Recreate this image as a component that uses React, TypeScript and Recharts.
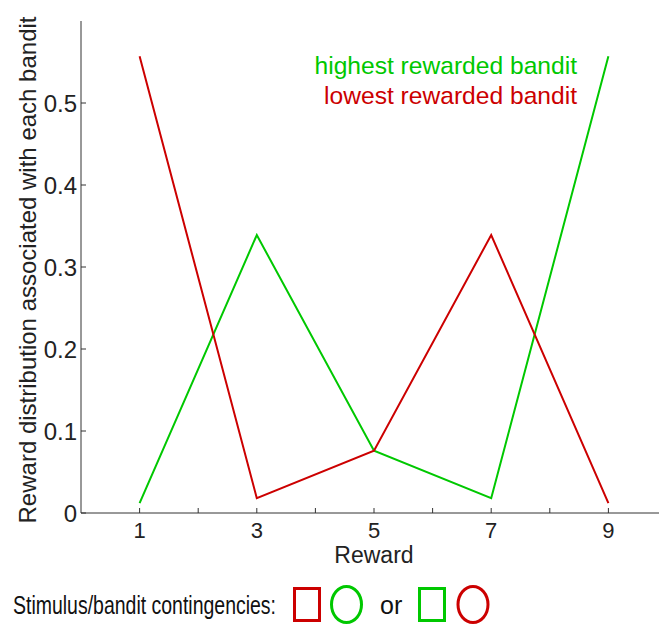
import React from 'react';
import { LineChart, Line, XAxis, YAxis } from 'recharts';

// Reward values on the x axis and the probability of each reward per bandit
const rewards = [1, 3, 5, 7, 9];
const highestBandit = [0.012, 0.339, 0.076, 0.018, 0.557];
const lowestBandit = [0.557, 0.018, 0.076, 0.339, 0.012];

const xTicks = [1, 2, 3, 4, 5, 6, 7, 8, 9];
const xTickLabels = ['1', '', '3', '', '5', '', '7', '', '9'];
const yTicks = [0, 0.1, 0.2, 0.3, 0.4, 0.5];
const yTickLabels = ['0', '0.1', '0.2', '0.3', '0.4', '0.5'];

const GREEN = '#00c800';
const RED = '#cc0000';
const AXIS = '#333';
const FONT = '"Liberation Sans", Arial, Helvetica, sans-serif';

const data = rewards.map((r, i) => ({
    reward: r,
    highest: highestBandit[i],
    lowest: lowestBandit[i],
}));

// ticks point into the plot, matlab style
const XTick = ({ x, y, payload }: any) => {
    const idx = xTicks.indexOf(payload.value);
    return (
        <g>
            <line x1={x} y1={y} x2={x} y2={y - 5} stroke={AXIS} />
            <text x={x} y={y + 25} textAnchor="middle" fontSize={22} fill="#222" fontFamily={FONT}>
                {xTickLabels[idx]}
            </text>
        </g>
    );
};

const YTick = ({ x, y, payload }: any) => {
    const idx = yTicks.indexOf(payload.value);
    return (
        <g>
            <line x1={x} y1={y} x2={x + 5} y2={y} stroke={AXIS} />
            <text x={x - 4} y={y + 9} textAnchor="end" fontSize={24} fill="#222" fontFamily={FONT}>
                {yTickLabels[idx]}
            </text>
        </g>
    );
};

export default function App() {
    return (
        <div
            style={{
                position: 'fixed',
                left: 0,
                top: 0,
                width: 659,
                height: 626,
                overflow: 'hidden',
                background: '#fff',
                fontFamily: FONT,
            }}
        >
            <LineChart
                width={700}
                height={560}
                data={data}
                margin={{ top: 21, right: 33, left: 0, bottom: 7 }}
            >
                <XAxis
                    dataKey="reward"
                    type="number"
                    domain={[0, 10]}
                    ticks={xTicks}
                    tickLine={false}
                    tickSize={0}
                    tickMargin={0}
                    tick={<XTick />}
                    axisLine={{ stroke: AXIS }}
                    height={40}
                    interval={0}
                />
                <YAxis
                    type="number"
                    domain={[0, 0.6]}
                    ticks={yTicks}
                    tickLine={false}
                    tickSize={0}
                    tickMargin={0}
                    tick={<YTick />}
                    axisLine={{ stroke: AXIS }}
                    width={81}
                    interval={0}
                />
                <Line
                    dataKey="highest"
                    stroke={GREEN}
                    strokeWidth={2}
                    dot={false}
                    isAnimationActive={false}
                />
                <Line
                    dataKey="lowest"
                    stroke={RED}
                    strokeWidth={2}
                    dot={false}
                    isAnimationActive={false}
                />
            </LineChart>

            <svg
                width={659}
                height={626}
                style={{ position: 'absolute', left: 0, top: 0, pointerEvents: 'none' }}
                fontFamily={FONT}
            >
                <text
                    transform="translate(36, 270) rotate(-90)"
                    textAnchor="middle"
                    fontSize={24}
                    fill="#222"
                >
                    Reward distribution associated with each bandit
                </text>
                <text x={374} y={563} textAnchor="middle" fontSize={23} fill="#222">
                    Reward
                </text>

                <text x={577} y={74} textAnchor="end" fontSize={24.6} fill={GREEN}>
                    highest rewarded bandit
                </text>
                <text x={577} y={104} textAnchor="end" fontSize={24.6} fill={RED}>
                    lowest rewarded bandit
                </text>

                <text x={13} y={614} fontSize={26} fill="#111" textLength={263} lengthAdjust="spacingAndGlyphs">
                    Stimulus/bandit contingencies:
                </text>
                <rect x={294.5} y={588.5} width={25} height={32} fill="none" stroke={RED} strokeWidth={3} />
                <ellipse cx={346.5} cy={604.5} rx={15} ry={18} fill="none" stroke={GREEN} strokeWidth={3} />
                <text x={380} y={614} fontSize={25} fill="#111">
                    or
                </text>
                <rect x={419.5} y={588.5} width={25} height={32} fill="none" stroke={GREEN} strokeWidth={3} />
                <ellipse cx={473} cy={604.5} rx={15} ry={18} fill="none" stroke={RED} strokeWidth={3} />
            </svg>
        </div>
    );
}
